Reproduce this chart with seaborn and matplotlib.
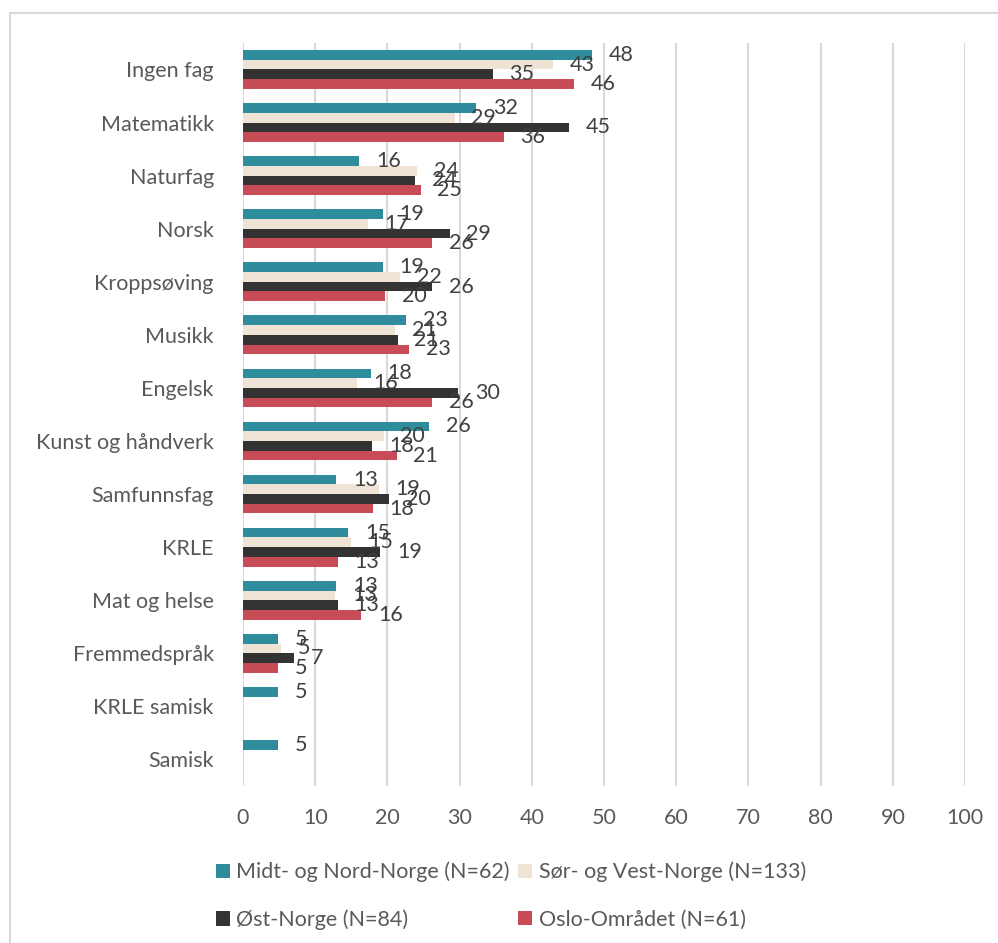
import pandas as pd
import matplotlib.pyplot as plt
import seaborn as sns
from matplotlib.patches import Patch
from matplotlib.lines import Line2D

# fag (kategorier) fra topp til bunn
fag = ['Ingen fag', 'Matematikk', 'Naturfag', 'Norsk', 'Kroppsøving', 'Musikk',
       'Engelsk', 'Kunst og håndverk', 'Samfunnsfag', 'KRLE', 'Mat og helse',
       'Fremmedspråk', 'KRLE samisk', 'Samisk']

regioner = ['Midt- og Nord-Norge (N=62)', 'Sør- og Vest-Norge (N=133)',
            'Øst-Norge (N=84)', 'Oslo-Området (N=61)']

midt_nord = [48.4, 32.3, 16.1, 19.4, 19.4, 22.6, 17.7, 25.8, 12.9, 14.6, 12.9, 4.8, 4.8, 4.8]
sor_vest = [42.9, 29.3, 24.1, 17.3, 21.8, 21.1, 15.8, 19.5, 18.8, 15.0, 12.8, 5.3, None, None]
ost = [34.6, 45.2, 23.8, 28.6, 26.2, 21.4, 29.8, 17.9, 20.2, 19.0, 13.1, 7.1, None, None]
oslo = [45.9, 36.1, 24.6, 26.2, 19.7, 23.0, 26.2, 21.3, 18.0, 13.1, 16.4, 4.9, None, None]

farger = ['#2E8C9C', '#EEE3D5', '#333333', '#C84B58']
tekstfarge = '#595959'

rows = []
for reg, verdier in zip(regioner, [midt_nord, sor_vest, ost, oslo]):
    for f, v in zip(fag, verdier):
        if v is not None:
            rows.append({'fag': f, 'region': reg, 'prosent': v})
df = pd.DataFrame(rows)

sns.set_theme(style='white')
plt.rcParams['font.family'] = ['Lato', 'DejaVu Sans']

fig = plt.figure(figsize=(9.98, 9.43), dpi=100)
ax = fig.add_axes([0.2435, 0.1665, 0.7235, 0.788])

sns.barplot(data=df, y='fag', x='prosent', hue='region', order=fag,
            hue_order=regioner, palette=farger, saturation=1, width=0.73,
            errorbar=None, linewidth=0, ax=ax, legend=False)

for c in ax.containers:
    ax.bar_label(c, labels=[f'{w:.0f}' for w in c.datavalues], padding=12,
                 fontsize=15.5, color='#404040')

ax.set_xlim(0, 100)
ax.set_xticks(range(0, 101, 10))
ax.set_xlabel('')
ax.set_ylabel('')
ax.grid(axis='x', color='#d9d9d9', linewidth=1.5)
ax.grid(axis='y', visible=False)
ax.set_axisbelow(True)
for s in ax.spines.values():
    s.set_visible(False)
ax.tick_params(axis='x', length=0, pad=16, labelsize=15.5, labelcolor=tekstfarge)
ax.tick_params(axis='y', length=0, pad=21, labelsize=15.5, labelcolor=tekstfarge)

# legende: rad 1 Midt/Sør, rad 2 Øst/Oslo
rekkefolge = [0, 2, 1, 3]
handles = [Patch(facecolor=farger[i], edgecolor='none') for i in rekkefolge]
labels = [regioner[i] for i in rekkefolge]
fig.legend(handles, labels, ncol=2, loc='upper left',
           bbox_to_anchor=(0.216, 0.086), frameon=False, fontsize=15.5,
           handlelength=0.65, handleheight=0.65, handletextpad=0.3,
           columnspacing=0.4, labelspacing=1.25, labelcolor=tekstfarge,
           borderaxespad=0, borderpad=0)

# tynn ramme oppe og til venstre
fig.add_artist(Line2D([10 / 998, 1], [1 - 13 / 943, 1 - 13 / 943],
                      transform=fig.transFigure, color='#d9d9d9', linewidth=1.5))
fig.add_artist(Line2D([10 / 998, 10 / 998], [0, 1 - 13 / 943],
                      transform=fig.transFigure, color='#d9d9d9', linewidth=1.5))

plt.savefig('out.png', dpi=100)
